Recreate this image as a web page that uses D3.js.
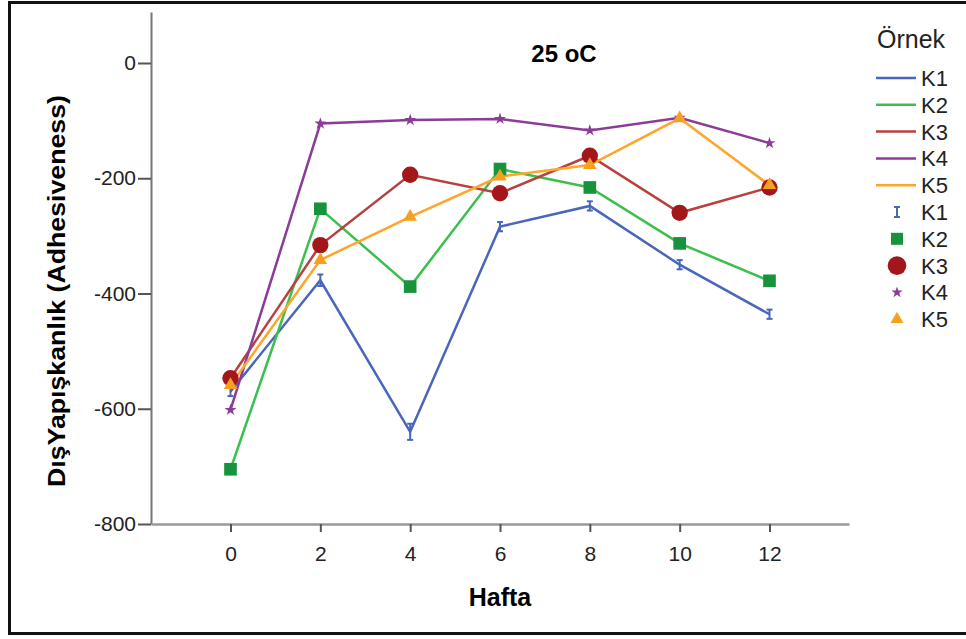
<!DOCTYPE html>
<html>
<head>
<meta charset="utf-8">
<script src="https://cdn.jsdelivr.net/npm/d3@7"></script>
<style>
  body { margin: 0; background: #fff; }
  svg { font-family: "Liberation Sans", Arial, sans-serif; }
</style>
</head>
<body>
<div id="chart"></div>
<script>
let w = 966;
let h = 639;

// data
let weeks = [0, 2, 4, 6, 8, 10, 12];
let seriesNames = ["K1", "K2", "K3", "K4", "K5"];
let k1 = [-570, -377, -640, -284, -248, -350, -436];
let k1Err = [8, 10, 14, 8, 8, 8, 8];
let k2 = [-705, -253, -388, -184, -216, -313, -378];
let k3 = [-547, -316, -194, -226, -161, -260, -216];
let k4 = [-602, -105, -99, -97, -117, -95, -139];
let k5 = [-559, -342, -267, -197, -177, -96, -212];
let yTicks = [0, -200, -400, -600, -800];

let lineColors = ["#4a66bb", "#3cbf4c", "#b8403f", "#8c3c98", "#ffa52a"];
let markColors = ["#4a66bb", "#17933b", "#a3171b", "#8c3c98", "#f7a020"];

let allValues = [k1, k2, k3, k4, k5];

let viz = d3.select("#chart")
  .append("svg")
  .attr("width", w)
  .attr("height", h)
;

// frame
viz.append("rect")
  .attr("x", 9.5).attr("y", 2.5)
  .attr("width", 980).attr("height", 631)
  .attr("fill", "white")
  .attr("stroke", "#111")
  .attr("stroke-width", 3)
;

let xScale = d3.scaleLinear().domain([-1.77, 13.77]).range([151, 849]);
let yScale = d3.scaleLinear().domain([-800, 88.5]).range([524, 12]);

// y axis (plain hyphen for negatives, like the original)
let yAxis = viz.append("g")
  .attr("transform", "translate(151,0)")
  .call(d3.axisLeft(yScale).tickValues(yTicks).tickFormat(function(d){ return String(d); })
    .tickSize(13).tickPadding(2).tickSizeOuter(0));
yAxis.select(".domain").attr("stroke", "#777").attr("stroke-width", 2);
yAxis.selectAll(".tick line").attr("stroke", "#555").attr("stroke-width", 2);
yAxis.selectAll("text").attr("font-size", 21).attr("fill", "#222").attr("font-family", "Liberation Sans, Arial, sans-serif");

// x axis
let xAxis = viz.append("g")
  .attr("transform", "translate(0,524)")
  .call(d3.axisBottom(xScale).tickValues(weeks).tickSize(8).tickPadding(14).tickSizeOuter(0));
xAxis.select(".domain").attr("stroke", "#999").attr("stroke-width", 2.5);
xAxis.selectAll(".tick line").attr("stroke", "#555").attr("stroke-width", 2);
xAxis.selectAll("text").attr("font-size", 21).attr("fill", "#222").attr("font-family", "Liberation Sans, Arial, sans-serif");

// titles
viz.append("text")
  .attr("x", 564).attr("y", 62)
  .attr("text-anchor", "middle")
  .attr("font-size", 24).attr("font-weight", "bold")
  .text("25 oC");

viz.append("text")
  .attr("x", 500).attr("y", 606)
  .attr("text-anchor", "middle")
  .attr("font-size", 25).attr("font-weight", "bold")
  .text("Hafta");

viz.append("text")
  .attr("transform", "translate(65,291) rotate(-90)")
  .attr("text-anchor", "middle")
  .attr("font-size", 23).attr("font-weight", "bold")
  .attr("textLength", 392).attr("lengthAdjust", "spacingAndGlyphs")
  .text("DışYapışkanlık (Adhesiveness)");

// lines
let line = d3.line()
  .x(function(d, i){ return xScale(weeks[i]); })
  .y(function(d){ return yScale(d); });

allValues.forEach(function(vals, s){
  viz.append("path")
    .attr("d", line(vals))
    .attr("fill", "none")
    .attr("stroke", lineColors[s])
    .attr("stroke-width", 2.5)
  ;
});

// K1 error bars
let errG = viz.append("g").attr("stroke", markColors[0]).attr("stroke-width", 2);
k1.forEach(function(v, i){
  let cx = xScale(weeks[i]);
  let y1 = yScale(v + k1Err[i]);
  let y2 = yScale(v - k1Err[i]);
  errG.append("line").attr("x1", cx).attr("x2", cx).attr("y1", y1).attr("y2", y2);
  errG.append("line").attr("x1", cx - 3).attr("x2", cx + 3).attr("y1", y1).attr("y2", y1);
  errG.append("line").attr("x1", cx - 3).attr("x2", cx + 3).attr("y1", y2).attr("y2", y2);
});

let symbols = [null, d3.symbolSquare, d3.symbolCircle, d3.symbolStar, d3.symbolTriangle];
let symSizes = [0, 160, 210, 45, 80];

for (let s = 1; s < 5; s++) {
  viz.selectAll(".mark" + s).data(allValues[s]).enter()
    .append("path")
    .attr("class", "mark" + s)
    .attr("d", d3.symbol().type(symbols[s]).size(symSizes[s]))
    .attr("transform", function(d, i){ return "translate(" + xScale(weeks[i]) + "," + yScale(d) + ")"; })
    .attr("fill", markColors[s])
  ;
}

// legend
let lg = viz.append("g");
lg.append("text")
  .attr("x", 877).attr("y", 48)
  .attr("font-size", 25).attr("fill", "#222")
  .text("Örnek");

let rowY = function(r){ return 78 + r * 26.8; };

seriesNames.forEach(function(name, s){
  lg.append("line")
    .attr("x1", 876).attr("x2", 916)
    .attr("y1", rowY(s)).attr("y2", rowY(s))
    .attr("stroke", lineColors[s]).attr("stroke-width", 2.5);
  lg.append("text")
    .attr("x", 921).attr("y", rowY(s) + 8)
    .attr("font-size", 22).attr("fill", "#222")
    .text(name);
});

seriesNames.forEach(function(name, s){
  let yy = rowY(s + 5);
  if (s == 0) {
    let g = lg.append("g").attr("stroke", markColors[0]).attr("stroke-width", 2);
    g.append("line").attr("x1", 897).attr("x2", 897).attr("y1", yy - 5).attr("y2", yy + 5);
    g.append("line").attr("x1", 894).attr("x2", 900).attr("y1", yy - 5).attr("y2", yy - 5);
    g.append("line").attr("x1", 894).attr("x2", 900).attr("y1", yy + 5).attr("y2", yy + 5);
  } else {
    lg.append("path")
      .attr("d", d3.symbol().type(symbols[s]).size(symSizes[s] * (s == 2 ? 1.3 : 0.9)))
      .attr("transform", "translate(897," + yy + ")")
      .attr("fill", markColors[s]);
  }
  lg.append("text")
    .attr("x", 921).attr("y", yy + 8)
    .attr("font-size", 22).attr("fill", "#222")
    .text(name);
});
</script>
</body>
</html>
